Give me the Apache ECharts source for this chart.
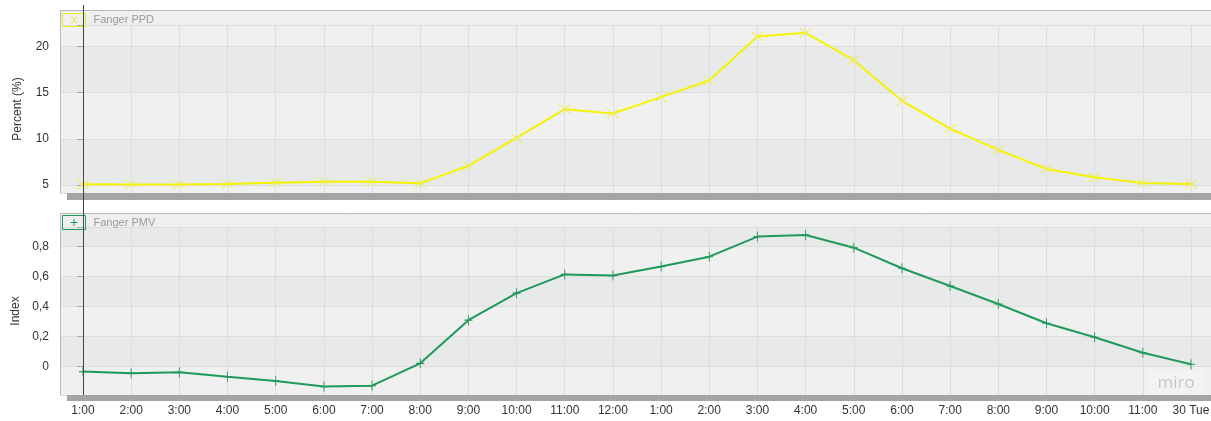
<!DOCTYPE html>
<html><head><meta charset="utf-8">
<script src="https://cdn.jsdelivr.net/npm/echarts@6/dist/echarts.min.js"></script>
<style>html,body{margin:0;padding:0;background:#fff}#c{width:1211px;height:421px}</style>
</head><body><div id="c"></div>
<script>
const categories = ['1:00','2:00','3:00','4:00','5:00','6:00','7:00','8:00','9:00','10:00','11:00','12:00',
  '1:00','2:00','3:00','4:00','5:00','6:00','7:00','8:00','9:00','10:00','11:00','30 Tue'];
const ppdValues = [5.07,5.05,5.05,5.1,5.25,5.35,5.36,5.18,7.08,10.1,13.2,12.73,14.5,16.3,21.05,21.45,18.5,14.1,11.1,8.8,6.73,5.83,5.22,5.1];
const pmvValues = [-0.033,-0.044,-0.038,-0.067,-0.095,-0.133,-0.127,0.022,0.31,0.49,0.615,0.607,0.667,0.733,0.867,0.878,0.793,0.656,0.538,0.418,0.289,0.196,0.093,0.016];
const ppdTicks = [5,10,15,20];
const pmvTicks = [0,0.2,0.4,0.6,0.8];
const ppdRange = [4.135, 22.3];
const pmvRange = [-0.189, 0.931];
const xRange = [-0.4775, 23.415];

const font = 'Arial, "Liberation Sans", sans-serif';
const idx = categories.map((_, i) => i);
const chart = echarts.init(document.getElementById('c'), null, {renderer: 'canvas'});

function yAxis(gridIndex, range, ticks, name, fmt) {
  return {
    type: 'value', gridIndex, min: range[0], max: range[1],
    name, nameLocation: 'middle', nameGap: 36,
    nameTextStyle: {color: '#333', fontSize: 12, fontFamily: font},
    axisLine: {show: false},
    axisTick: {show: true, length: 6, lineStyle: {color: '#aaa'}, customValues: [range[0]].concat(ticks, [range[1]])},
    axisLabel: {customValues: ticks, color: '#333', fontSize: 12, fontFamily: font, margin: 11, formatter: fmt},
    splitLine: {show: true, lineStyle: {color: '#dcdddc', width: 1}},
    splitArea: {show: true, areaStyle: {color: ['#eff0ef', '#e8e9e9']}}
  };
}
function xAxis(gridIndex, showLabels) {
  return {
    type: 'value', gridIndex, min: xRange[0], max: xRange[1],
    axisLine: {show: false},
    axisTick: {show: false, customValues: idx},
    axisLabel: {show: showLabels, customValues: idx, formatter: v => categories[Math.round(v)],
      color: '#333', fontSize: 12, fontFamily: font, margin: 10},
    splitLine: {show: true, lineStyle: {color: '#dcdddc', width: 1}},
    splitArea: {show: false}
  };
}

const ppdColor = '#f6f300';
const pmvColor = '#1f9a5b';

const option = {
  animation: false,
  backgroundColor: '#fff',
  grid: [
    {left: 60, right: 0, top: 25, height: 168, outerBoundsMode: 'none', containLabel: false},
    {left: 60, right: 0, top: 227, height: 168, outerBoundsMode: 'none', containLabel: false}
  ],
  xAxis: [xAxis(0, false), xAxis(1, true)],
  yAxis: [
    yAxis(0, ppdRange, ppdTicks, 'Percent (%)', v => String(v)),
    yAxis(1, pmvRange, pmvTicks, 'Index', v => String(v).replace('.', ','))
  ],
  legend: [
    {left: 62, top: 13, padding: 0, itemWidth: 23, itemHeight: 13, selectedMode: false,
      textStyle: {color: '#999', fontSize: 11, fontFamily: font, padding: [0, 0, 0, 3]},
      data: [{name: 'Fanger PPD', icon: 'path://M0,0H23V13H0Z M9,3L14,10 M14,3L9,10',
        itemStyle: {color: 'rgba(0,0,0,0)', borderColor: '#eeea20', borderWidth: 1}}]},
    {left: 62, top: 215, padding: 0, itemWidth: 23, itemHeight: 14, selectedMode: false,
      textStyle: {color: '#999', fontSize: 11, fontFamily: font, padding: [0, 0, 0, 3]},
      data: [{name: 'Fanger PMV', icon: 'path://M0,0H23V14H0Z M11.5,3.5V10.5 M8,7H15',
        itemStyle: {color: 'rgba(0,0,0,0)', borderColor: pmvColor, borderWidth: 1}}]}
  ],
  series: [
    {type: 'line', name: 'Fanger PPD', xAxisIndex: 0, yAxisIndex: 0,
      data: ppdValues.map((v, i) => [i, v]),
      lineStyle: {color: ppdColor, width: 2},
      symbol: 'path://M0,0L10,9M10,0L0,9', symbolSize: [11, 9], showAllSymbol: true,
      itemStyle: {color: 'rgba(0,0,0,0)', borderColor: '#efed55', borderWidth: 1},
      emphasis: {disabled: true}, silent: true, z: 3},
    {type: 'line', name: 'Fanger PMV', xAxisIndex: 1, yAxisIndex: 1,
      data: pmvValues.map((v, i) => [i, v]),
      lineStyle: {color: pmvColor, width: 2},
      symbol: 'path://M5,0V10M0,5H10', symbolSize: [8, 10], showAllSymbol: true,
      itemStyle: {color: 'rgba(0,0,0,0)', borderColor: pmvColor, borderWidth: 1},
      emphasis: {disabled: true}, silent: true, z: 3}
  ]
};
chart.setOption(option);

const cx = Math.round(chart.convertToPixel({xAxisIndex: 1}, 0)) + 0.5;
chart.setOption({
  graphic: [
    {type: 'rect', z: -10, shape: {x: 60, y: 10, width: 1151, height: 183}, style: {fill: '#eeefee'}},
    {type: 'line', z: 50, shape: {x1: 60, y1: 10.5, x2: 1211, y2: 10.5}, style: {stroke: '#b8b8b8', lineWidth: 1}},
    {type: 'line', z: 50, shape: {x1: 60.5, y1: 10, x2: 60.5, y2: 193}, style: {stroke: '#b8b8b8', lineWidth: 1}},
    {type: 'rect', z: 50, shape: {x: 67, y: 193, width: 1144, height: 7}, style: {fill: '#a5a5a5'}},
    {type: 'rect', z: -10, shape: {x: 60, y: 213, width: 1151, height: 182}, style: {fill: '#eeefee'}},
    {type: 'line', z: 50, shape: {x1: 60, y1: 213.5, x2: 1211, y2: 213.5}, style: {stroke: '#b8b8b8', lineWidth: 1}},
    {type: 'line', z: 50, shape: {x1: 60.5, y1: 213, x2: 60.5, y2: 395}, style: {stroke: '#b8b8b8', lineWidth: 1}},
    {type: 'rect', z: 50, shape: {x: 67, y: 395, width: 1144, height: 6}, style: {fill: '#a5a5a5'}},
    {type: 'line', z: 100, shape: {x1: cx, y1: 5, x2: cx, y2: 395}, style: {stroke: '#444', lineWidth: 1}},
    {type: 'rect', z: 60, shape: {x: 1148, y: 370, width: 57, height: 24}, style: {fill: '#f3f3f3'}},
    {type: 'text', z: 61, style: {text: 'miro', x: 1176, y: 383, align: 'center', verticalAlign: 'middle',
      fontSize: 17, fontFamily: '"Open Sans", sans-serif', fill: '#c6c6ce'}}
  ]
});
</script>
</body></html>
